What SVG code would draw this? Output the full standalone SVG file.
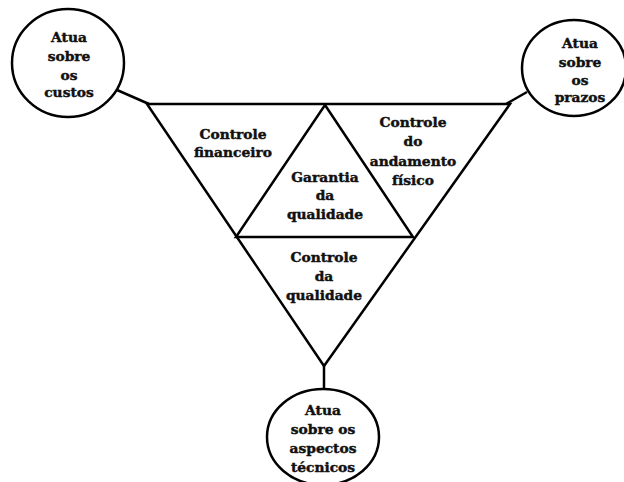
<svg xmlns="http://www.w3.org/2000/svg" width="624" height="482" viewBox="0 0 624 482">
  <style>
    .shape { fill: #ffffff; stroke: #000000; stroke-width: 2.5; stroke-linejoin: miter; }
    .line { fill: none; stroke: #000000; stroke-width: 2.5; }
    .lbl { font-family: "DejaVu Serif", "Liberation Serif", serif; font-weight: bold; font-size: 13.8px; fill: #111111; stroke: #111111; stroke-width: 0.45; text-anchor: middle; }
  </style>
  <rect width="624" height="482" fill="#ffffff"/>

  <!-- connectors from the corners of the triangle to the circles -->
  <g id="connectors">
    <line class="line" x1="117" y1="90" x2="149" y2="104"/>
    <line class="line" x1="527" y1="92" x2="506" y2="104"/>
    <line class="line" x1="324" y1="365" x2="324" y2="390"/>
  </g>

  <!-- large inverted triangle split into four parts -->
  <g id="triangle">
    <polygon class="shape" points="147,104 510,104 324,366"/>
    <polygon class="line" points="325,105 413,237 236,237"/>
  </g>

  <g id="financeiro">
    <text class="lbl" x="233" y="139">Controle</text>
    <text class="lbl" x="233" y="157">financeiro</text>
  </g>

  <g id="andamento">
    <text class="lbl" x="413" y="127">Controle</text>
    <text class="lbl" x="413" y="146">do</text>
    <text class="lbl" x="413" y="166">andamento</text>
    <text class="lbl" x="413" y="185">físico</text>
  </g>

  <g id="garantia">
    <text class="lbl" x="325" y="182">Garantia</text>
    <text class="lbl" x="325" y="200">da</text>
    <text class="lbl" x="325" y="219">qualidade</text>
  </g>

  <g id="controle-qualidade">
    <text class="lbl" x="324" y="262">Controle</text>
    <text class="lbl" x="324" y="281">da</text>
    <text class="lbl" x="324" y="300">qualidade</text>
  </g>

  <g id="custos">
    <ellipse class="shape" cx="68" cy="63" rx="56" ry="54"/>
    <text class="lbl" x="69" y="42">Atua</text>
    <text class="lbl" x="69" y="61">sobre</text>
    <text class="lbl" x="69" y="80">os</text>
    <text class="lbl" x="69" y="97">custos</text>
  </g>

  <g id="prazos">
    <ellipse class="shape" cx="574" cy="68" rx="52" ry="48"/>
    <text class="lbl" x="580" y="48">Atua</text>
    <text class="lbl" x="580" y="67">sobre</text>
    <text class="lbl" x="580" y="85">os</text>
    <text class="lbl" x="580" y="102">prazos</text>
  </g>

  <g id="tecnicos">
    <ellipse class="shape" cx="323" cy="437" rx="56" ry="48"/>
    <text class="lbl" x="323" y="415">Atua</text>
    <text class="lbl" x="323" y="434">sobre os</text>
    <text class="lbl" x="323" y="453">aspectos</text>
    <text class="lbl" x="323" y="472">técnicos</text>
  </g>
</svg>
